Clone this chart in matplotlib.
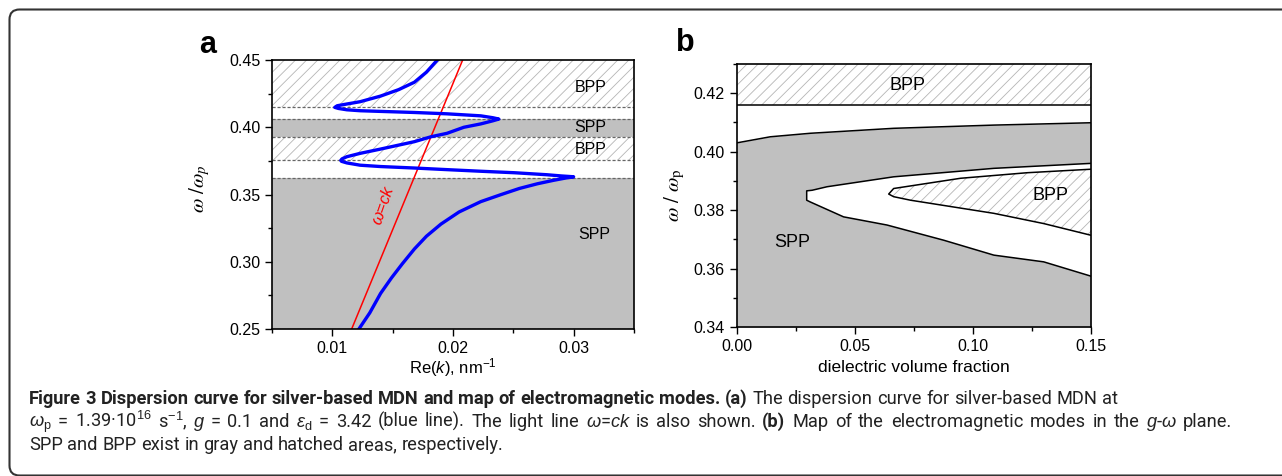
import numpy as np
import matplotlib
matplotlib.use("Agg")
import matplotlib.pyplot as plt
from matplotlib.patches import FancyBboxPatch
from matplotlib.transforms import IdentityTransform
from matplotlib.ticker import MultipleLocator

plt.rcParams['font.family'] = ['Liberation Sans', 'DejaVu Sans']
plt.rcParams['mathtext.fontset'] = 'custom'
plt.rcParams['mathtext.rm'] = 'Liberation Sans'
plt.rcParams['mathtext.it'] = 'Liberation Sans:italic'
plt.rcParams['mathtext.bf'] = 'Liberation Sans:bold'
plt.rcParams['hatch.linewidth'] = 0.6

# ---- panel a data ----
spp_bands_a = [(0.25, 0.3623), (0.3925, 0.4061)]
bpp_bands_a = [(0.3754, 0.3925), (0.4148, 0.45)]
edges_a = [0.25, 0.3623, 0.3754, 0.3925, 0.4061, 0.4148]

# dispersion curve (omega, Re k)
w_disp = [0.250, 0.262, 0.2765, 0.288, 0.2985, 0.3095, 0.319, 0.328, 0.337, 0.3447,
          0.350, 0.3545, 0.358, 0.3605, 0.3622, 0.3632,
          0.3638, 0.3647, 0.3662, 0.3673, 0.3685, 0.3697, 0.3708, 0.3718, 0.3735, 0.3747, 0.3754,
          0.3765, 0.3781, 0.3806, 0.3838, 0.3893, 0.3930, 0.3955, 0.4000, 0.4025, 0.4048, 0.4061,
          0.4071, 0.4085, 0.4100, 0.4110, 0.4118, 0.4123, 0.4130, 0.4140, 0.4148,
          0.4160, 0.4173, 0.4190, 0.4232, 0.4280, 0.4335, 0.4410, 0.4500]
k_disp = [0.0122, 0.0131, 0.0140, 0.0149, 0.0158, 0.0168, 0.0178, 0.0190, 0.0205, 0.0223,
          0.0240, 0.0255, 0.0270, 0.0283, 0.0293, 0.0300,
          0.0290, 0.0278, 0.0251, 0.0223, 0.0195, 0.0168, 0.0140, 0.0123, 0.0112, 0.01075, 0.0107,
          0.0108, 0.0112, 0.0123, 0.0140, 0.0168, 0.0182, 0.0195, 0.0209, 0.0223, 0.0233, 0.0238,
          0.0233, 0.0223, 0.0195, 0.0168, 0.0140, 0.0123, 0.0112, 0.0105, 0.0102,
          0.0104, 0.0112, 0.0123, 0.0140, 0.0155, 0.0168, 0.0178, 0.0187]

k_light = [0.0116, 0.0208]
w_light = [0.25, 0.45]

# ---- panel b data ----
g_spp_top = [0.0, 0.0143, 0.0312, 0.0665, 0.1089, 0.15]
w_spp_top = [0.4030, 0.4051, 0.4063, 0.4080, 0.4091, 0.4099]

g_gap_up = [0.0297, 0.0320, 0.0383, 0.0665, 0.1089, 0.15]
w_gap_up = [0.3866, 0.3868, 0.3880, 0.3914, 0.3943, 0.3960]
g_gap_low = [0.0297, 0.0312, 0.0453, 0.0637, 0.0877, 0.1089, 0.130, 0.15]
w_gap_low = [0.3834, 0.3828, 0.3777, 0.3749, 0.3697, 0.3646, 0.3623, 0.3574]

g_bpp_up = [0.0644, 0.0665, 0.0948, 0.123, 0.15]
w_bpp_up = [0.3855, 0.3874, 0.3909, 0.3928, 0.3940]
g_bpp_low = [0.0644, 0.0665, 0.0736, 0.1089, 0.130, 0.15]
w_bpp_low = [0.3855, 0.3846, 0.3834, 0.3789, 0.3754, 0.3714]

bpp_top_b = (0.4161, 0.43)

GRAY = '#c0c0c0'
HATCH_COL = '#b5b5b5'

fig = plt.figure(figsize=(12.82, 4.76), dpi=100)

# rounded frame
frame = FancyBboxPatch((9.5, 0.5), 1300, 466, boxstyle="round,pad=0,rounding_size=10",
                       transform=IdentityTransform(), fill=False, lw=1.5, ec='#333333')
fig.add_artist(frame)


def style_axes(ax):
    for sp in ax.spines.values():
        sp.set_linewidth(1.2)
    ax.tick_params(which='both', direction='out', top=False, right=False, labelsize=11.5)
    ax.tick_params(which='major', length=5, width=1)
    ax.tick_params(which='minor', length=3, width=1)


# ---------------- panel a ----------------
axA = fig.add_axes([0.2122, 0.3088, 0.2823, 0.5651])
for lo, hi in spp_bands_a:
    axA.axhspan(lo, hi, color=GRAY, lw=0)
for lo, hi in bpp_bands_a:
    axA.axhspan(lo, hi, facecolor='white', edgecolor=HATCH_COL, hatch='///', lw=0)
for y in edges_a:
    axA.axhline(y, color='#666666', lw=0.9, ls=(0, (2.5, 1.5)))
axA.plot(k_light, w_light, color='red', lw=1.1)
axA.plot(k_disp, w_disp, color='#0000ff', lw=2.4, solid_joinstyle='round')
axA.text(0.0142, 0.342, r'$\omega$=$ck$', color='red', fontsize=12, rotation=71,
         ha='center', va='center')
axA.text(0.0314, 0.4294, 'BPP', fontsize=11.5, ha='center', va='center')
axA.text(0.0314, 0.4000, 'SPP', fontsize=11.5, ha='center', va='center')
axA.text(0.0314, 0.3838, 'BPP', fontsize=11.5, ha='center', va='center')
axA.text(0.0317, 0.3204, 'SPP', fontsize=11.5, ha='center', va='center')
axA.set_xlim(0.005, 0.035)
axA.set_ylim(0.25, 0.45)
axA.xaxis.set_major_locator(MultipleLocator(0.01))
axA.xaxis.set_minor_locator(MultipleLocator(0.005))
axA.yaxis.set_major_locator(MultipleLocator(0.05))
axA.yaxis.set_minor_locator(MultipleLocator(0.025))
style_axes(axA)
axA.set_xlabel(r'Re($k$), nm$^{-1}$', fontsize=12)
axA.xaxis.set_label_coords(0.5, -0.10)
axA.set_ylabel(r'$\omega\ /\omega_p$', fontsize=15, math_fontfamily='stix')
axA.yaxis.set_label_coords(-0.166, 0.52)

# ---------------- panel b ----------------
axB = fig.add_axes([0.5745, 0.3130, 0.2765, 0.5525])
axB.fill_between(g_spp_top, 0.34, w_spp_top, color=GRAY, lw=0)
axB.fill(g_gap_up + g_gap_low[::-1], w_gap_up + w_gap_low[::-1], color='white', lw=0)
axB.fill(g_bpp_up + g_bpp_low[::-1], w_bpp_up + w_bpp_low[::-1], facecolor='white',
         edgecolor=HATCH_COL, hatch='///', lw=0)
axB.axhspan(bpp_top_b[0], bpp_top_b[1], facecolor='white', edgecolor=HATCH_COL,
            hatch='///', lw=0)
axB.axhline(bpp_top_b[0], color='black', lw=1.1)
axB.plot(g_spp_top, w_spp_top, color='black', lw=1.1)
axB.plot(g_gap_up[::-1] + g_gap_low, w_gap_up[::-1] + w_gap_low, color='black', lw=1.1)
axB.plot(g_bpp_up[::-1] + g_bpp_low, w_bpp_up[::-1] + w_bpp_low, color='black', lw=1.1)
axB.text(0.0722, 0.4226, 'BPP', fontsize=13, ha='center', va='center')
axB.text(0.133, 0.3851, 'BPP', fontsize=13, ha='center', va='center')
axB.text(0.0235, 0.3688, 'SPP', fontsize=13, ha='center', va='center')
axB.set_xlim(0, 0.15)
axB.set_ylim(0.34, 0.43)
axB.xaxis.set_major_locator(MultipleLocator(0.05))
axB.xaxis.set_minor_locator(MultipleLocator(0.025))
axB.yaxis.set_major_locator(MultipleLocator(0.02))
axB.yaxis.set_minor_locator(MultipleLocator(0.01))
style_axes(axB)
axB.set_xlabel('dielectric volume fraction', fontsize=12.5)
axB.xaxis.set_label_coords(0.5, -0.127)
axB.set_ylabel(r'$\omega\ /\ \omega_\mathrm{p}$', fontsize=15, math_fontfamily='stix')
axB.yaxis.set_label_coords(-0.14, 0.5)

# panel letters
fig.text(208, 476 - 45, 'a', fontsize=22, fontweight='bold', ha='center', va='center',
         transform=IdentityTransform())
fig.text(685, 476 - 43, 'b', fontsize=22, fontweight='bold', ha='center', va='center',
         transform=IdentityTransform())

# ---------------- caption ----------------
CAP_FONT = ['Roboto', 'Liberation Sans']
renderer = fig.canvas.get_renderer()


def text_width(s, size, weight):
    t = fig.text(0, 0, s, transform=IdentityTransform(), fontsize=size,
                 fontweight=weight, family=CAP_FONT)
    w = t.get_window_extent(renderer).width
    t.remove()
    return w


def advance(s, size, weight):
    return text_width('l' + s + 'l', size, weight) - text_width('ll', size, weight)


def words(runs):
    out = []
    for s, weight in runs:
        out += [(w, weight) for w in s.split()]
    return out


def place(toks, widths, x0, y_base, size, gap):
    x = x0
    arts = []
    for (w, wt), wd in zip(toks, widths):
        arts.append(fig.text(x, y_base, w, transform=IdentityTransform(), ha='left',
                             va='baseline', fontsize=size, fontweight=wt,
                             family=CAP_FONT, color='#222222'))
        x += wd + gap
    return arts


def draw_line(runs, x0, y_base, size, target=None):
    toks = words(runs)
    widths = [advance(w, size, wt) for w, wt in toks]
    gap = advance(' ', size, 'normal')
    if target is None:
        place(toks, widths, x0, y_base, size, gap)
        return
    gap = (target - sum(widths)) / (len(toks) - 1)
    arts = place(toks, widths, x0, y_base, size, gap)
    # correct the spacing with the real right end of the line
    right = arts[-1].get_window_extent(renderer).x1
    gap += (x0 + target - right) / (len(toks) - 1)
    for a in arts:
        a.remove()
    place(toks, widths, x0, y_base, size, gap)


line1 = [("Figure 3 Dispersion curve for silver-based MDN and map of electromagnetic modes. (a)", 'bold'),
         ("The dispersion curve for silver-based MDN at", 'normal')]
line2 = [(r"$\omega_\mathrm{p}$ = 1.39·10$^{16}$ s$^{-1}$, $g$ = 0.1 and $\varepsilon_\mathrm{d}$ = 3.42 (blue line). The light line $\omega$=$ck$ is also shown.", 'normal'),
         ("(b)", 'bold'),
         (r"Map of the electromagnetic modes in the $g$-$\omega$ plane.", 'normal')]
line3 = [("SPP and BPP exist in gray and hatched areas, respectively.", 'normal')]


def natural_width(runs, size):
    toks = words(runs)
    return (sum(advance(w, size, wt) for w, wt in toks)
            + advance(' ', size, 'normal') * (len(toks) - 1))


# font size chosen so that the first caption line has about the picture's width
cap_size = 13 * 1089 / natural_width(line1, 13)

draw_line(line1, 29, 476 - 404, cap_size, target=1089)
draw_line(line2, 29, 476 - 427, cap_size, target=1203)
draw_line(line3, 29, 476 - 450, cap_size)

fig.savefig('out.png', dpi=100)
